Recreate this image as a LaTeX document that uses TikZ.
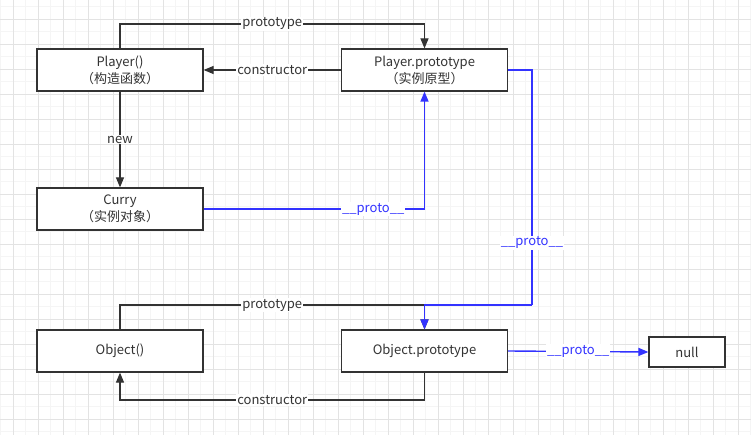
\documentclass[tikz,border=0pt]{standalone}
\usepackage{fontspec}
\setmainfont{Noto Sans CJK SC}
\usetikzlibrary{arrows.meta}
\definecolor{linegray}{HTML}{333333}
\definecolor{protoblue}{HTML}{3333FF}
\tikzset{
  box/.style={draw=linegray, line width=1.2pt, fill=white, minimum width=166pt, minimum height=42pt, inner sep=0pt, align=center, text=linegray, font=\fontsize{13}{17}\selectfont},
  link/.style={draw=linegray, line width=1.2pt},
  protolink/.style={draw=protoblue, line width=1.4pt},
  lbl/.style={fill=white, inner sep=1pt, text=linegray, font=\fontsize{13}{14}\selectfont},
  protolbl/.style={fill=white, inner sep=1pt, text=protoblue, font=\fontsize{13}{14}\selectfont}
}
\begin{document}
\begin{tikzpicture}[x=1pt, y=-1pt, >={Triangle[length=10pt,width=8pt]}]
\useasboundingbox (0,0) rectangle (751,435);
\fill[white] (0,0) rectangle (751,435);
% grid
\foreach \x in {0.5,13,...,751}
    \draw[black!4, line width=0.6pt] (\x,0)--(\x,435);
\foreach \y in {6.5,19,...,435}
    \draw[black!4, line width=0.6pt] (0,\y)--(751,\y);
\foreach \x in {13,38,...,751}
    \draw[black!11, line width=0.8pt] (\x,0)--(\x,435);
\foreach \y in {19,44,...,435}
    \draw[black!11, line width=0.8pt] (0,\y)--(751,\y);

% boxes
\node[box] (player) at (120,70) {Player()\\（构造函数）};
\node[box] (curry) at (120,209) {Curry\\（实例对象）};
\node[box] (pproto) at (424.5,70) {Player.prototype\\（实例原型）};
\node[box] (object) at (120,351) {Object()};
\node[box] (oproto) at (424.5,351) {Object.prototype};
\node[box, minimum width=76pt, minimum height=30pt] (null) at (687,352) {null};

\coordinate (ptop) at (120,24);
\coordinate (otop) at (120,305);
\coordinate (obot) at (120,400);
\coordinate (pright) at (532,70);
\coordinate (pdown) at (532,305);

% Player
\draw[link,->] (player.north)--(ptop)-|(pproto.north) node[lbl, pos=.25]{prototype};
\draw[link,->] (pproto.west)--(player.east) node[lbl, midway]{constructor};
\draw[link,->] (player.south)--(curry.north) node[lbl, midway]{new};
\draw[protolink,->] (curry.east)-|(pproto.south) node[protolbl, pos=.384]{\_\_proto\_\_};

% Object
\draw[protolink] (pproto.east)--(pright)--(pdown) node[protolbl, pos=.736]{\_\_proto\_\_};
\draw[link,->] (object.north)--(otop)-|(oproto.north) node[lbl, pos=.25]{prototype};
\draw[protolink,->] (pdown)-|(oproto.north);
\draw[link,->] (oproto.south)|-(obot) node[lbl, pos=.75]{constructor} --(object.south);
\draw[protolink,->] (oproto.east)--(null.west) node[protolbl, pos=.5]{\_\_proto\_\_};
\end{tikzpicture}
\end{document}
